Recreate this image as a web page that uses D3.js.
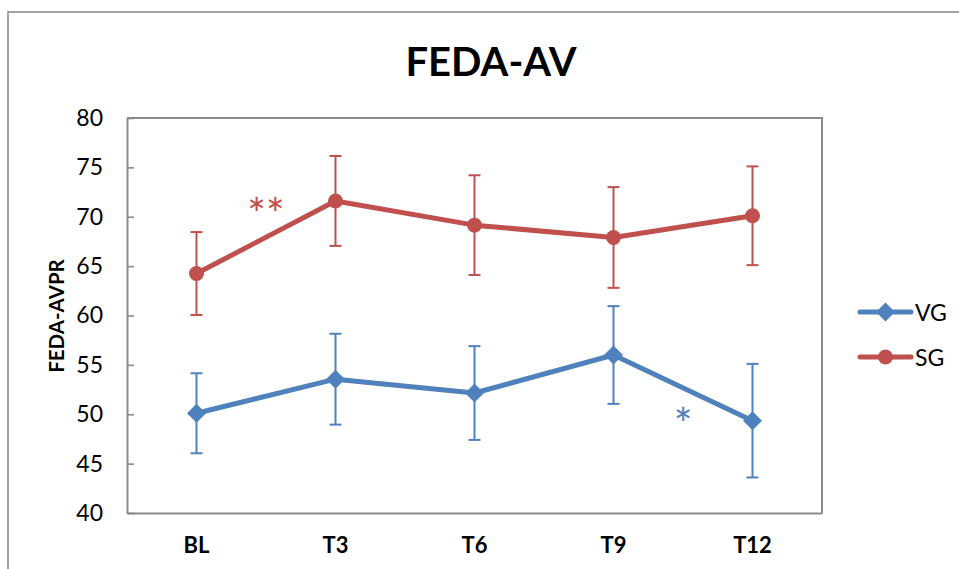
<!DOCTYPE html>
<html>
<head>
<meta charset="utf-8">
<script src="https://cdn.jsdelivr.net/npm/d3@7"></script>
<style>
  html, body { margin: 0; padding: 0; background: #fff; }
  svg { display: block; font-family: Lato, "Liberation Sans", sans-serif; }
</style>
</head>
<body>
<svg id="chart" width="959" height="569"></svg>
<script>
const categories = ["BL", "T3", "T6", "T9", "T12"];
const vgMean = [50.1, 53.55, 52.15, 56.0, 49.35];
const vgErr  = [4.05, 4.6, 4.75, 4.95, 5.75];
const sgMean = [64.25, 71.6, 69.15, 67.9, 70.1];
const sgErr  = [4.2, 4.55, 5.05, 5.1, 5.0];
const yTicks = [40, 45, 50, 55, 60, 65, 70, 75, 80];
const seriesNames = ["VG", "SG"];
const annotations = [
  { text: "**", series: "SG", from: "BL", to: "T3", value: 71.2 },
  { text: "*",  series: "VG", from: "T9", to: "T12", value: 49.9 }
];

const colors = { VG: "#4F81BD", SG: "#C0504D" };
const series = [
  { name: "VG", mean: vgMean, err: vgErr, shape: "diamond" },
  { name: "SG", mean: sgMean, err: sgErr, shape: "circle" }
];

const svg = d3.select("#chart");
const plot = { left: 127, right: 822, top: 118, bottom: 513 };

// outer chart border (cropped at right/bottom)
svg.append("rect").attr("x", 8).attr("y", 12).attr("width", 1000).attr("height", 600)
  .attr("fill", "none").attr("stroke", "#8a8a8a").attr("stroke-width", 1.6);

const x = d3.scaleBand().domain(categories).range([plot.left, plot.right]);
const cx = c => x(c) + x.bandwidth() / 2;
const y = d3.scaleLinear().domain([40, 80]).range([plot.bottom, plot.top]);

// plot area border top and right
svg.append("path")
  .attr("d", `M${plot.left},${plot.top}H${plot.right}V${plot.bottom}`)
  .attr("fill", "none").attr("stroke", "#8a8a8a").attr("stroke-width", 2);

// y axis
const yAxis = d3.axisLeft(y).tickValues(yTicks).tickSize(-7).tickSizeOuter(0).tickPadding(24);
const gy = svg.append("g").attr("transform", `translate(${plot.left},0)`).call(yAxis);
gy.select(".domain").attr("stroke", "#8a8a8a").attr("stroke-width", 2);
gy.selectAll(".tick line").attr("stroke", "#8a8a8a").attr("stroke-width", 1.6);
gy.selectAll(".tick text").attr("font-size", 23).attr("fill", "#000")
  .attr("font-family", "Lato, 'Liberation Sans', sans-serif");

// x axis
const xAxis = d3.axisBottom(x).tickSize(0).tickSizeOuter(0).tickPadding(24);
const gx = svg.append("g").attr("transform", `translate(0,${plot.bottom})`).call(xAxis);
gx.select(".domain").attr("stroke", "#8a8a8a").attr("stroke-width", 2);
gx.selectAll(".tick text").attr("font-size", 22).attr("font-weight", "bold").attr("fill", "#000")
  .attr("font-family", "Lato, 'Liberation Sans', sans-serif");

// title
svg.append("text").attr("x", 491).attr("y", 76).attr("text-anchor", "middle")
  .attr("font-size", 40).attr("font-weight", "bold").text("FEDA-AV");

// y axis title
svg.append("text").attr("transform", "translate(64,316) rotate(-90)").attr("text-anchor", "middle")
  .attr("font-size", 20.5).attr("font-weight", "bold").text("FEDA-AVPR");

const line = d3.line().x((d, i) => cx(categories[i])).y(d => y(d));

const diamond = r => `M0,${-r}L${r},0L0,${r}L${-r},0Z`;

series.forEach(s => {
  const g = svg.append("g");
  const col = colors[s.name];
  // error bars
  s.mean.forEach((m, i) => {
    const xc = cx(categories[i]);
    const hi = y(m + s.err[i]), lo = y(m - s.err[i]);
    g.append("line").attr("x1", xc).attr("x2", xc).attr("y1", hi).attr("y2", lo)
      .attr("stroke", col).attr("stroke-width", 2);
    [hi, lo].forEach(yy => g.append("line").attr("x1", xc - 6).attr("x2", xc + 6)
      .attr("y1", yy).attr("y2", yy).attr("stroke", col).attr("stroke-width", 2));
  });
  g.append("path").attr("d", line(s.mean)).attr("fill", "none")
    .attr("stroke", col).attr("stroke-width", 5).attr("stroke-linejoin", "round");
  s.mean.forEach((m, i) => {
    const xc = cx(categories[i]), yc = y(m);
    if (s.shape === "circle") {
      g.append("circle").attr("cx", xc).attr("cy", yc).attr("r", 7.5).attr("fill", col);
    } else {
      g.append("path").attr("d", diamond(9.5)).attr("transform", `translate(${xc},${yc})`).attr("fill", col);
    }
  });
});

// annotations
annotations.forEach(a => {
  const xm = (cx(a.from) + cx(a.to)) / 2;
  svg.append("text").attr("x", xm).attr("y", y(a.value) + 25).attr("text-anchor", "middle")
    .attr("font-size", 44).attr("fill", colors[a.series]).text(a.text);
});

// legend
const legY = { VG: 312, SG: 357 };
series.forEach(s => {
  const col = colors[s.name];
  const yy = legY[s.name];
  svg.append("line").attr("x1", 860).attr("x2", 911).attr("y1", yy).attr("y2", yy)
    .attr("stroke", col).attr("stroke-width", 5).attr("stroke-linecap", "round");
  if (s.shape === "circle") {
    svg.append("circle").attr("cx", 885.5).attr("cy", yy).attr("r", 7.5).attr("fill", col);
  } else {
    svg.append("path").attr("d", diamond(9.5)).attr("transform", `translate(885.5,${yy})`).attr("fill", col);
  }
  svg.append("text").attr("x", 915).attr("y", yy + 8.5).attr("font-size", 23).attr("fill", "#000").text(s.name);
});
</script>
</body>
</html>
